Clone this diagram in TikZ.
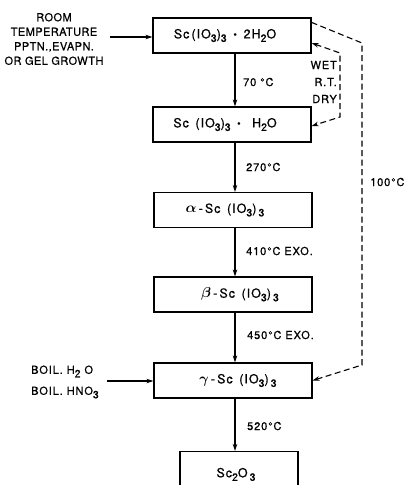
\documentclass[tikz,border=0pt]{standalone}
\usepackage{fontspec}
\setmainfont{TeX Gyre Heros}[LetterSpace=8,FakeBold=0.7]
\usetikzlibrary{arrows.meta}
\newcommand{\lowr}[1]{\raisebox{-3.5pt}{\fontsize{10.5}{11}\selectfont #1}}
\newcommand{\mdot}{\raisebox{1.5pt}{\fontsize{6.5}{7}\selectfont$\bullet$}}
\newcommand{\grk}[1]{{\fontsize{14}{14}\selectfont\boldmath$#1$}}
\begin{document}
\begin{tikzpicture}[x=1pt,y=-1pt,
  box/.style={draw,line width=1.2pt,minimum width=158pt,minimum height=35pt,inner sep=0pt,font=\fontsize{12.5}{14}\selectfont},
  lbl/.style={anchor=west,inner sep=0pt,font=\fontsize{11}{13}\selectfont},
  side/.style={inner sep=0pt,font=\fontsize{11}{14.5}\selectfont,align=center},
  arr/.style={line width=1.1pt,-{Stealth[length=7pt,width=4.5pt]}},
  dsh/.style={line width=1.1pt,dash pattern=on 6pt off 3.5pt}]
\useasboundingbox (0,0) rectangle (410,485);
\clip (0,0) rectangle (410,485);
\node[box] (b1) at (232,35.5) {Sc\,(IO\lowr{3})\lowr{3}\, \mdot\ \,2H\lowr{2}O\kern14pt};
\node[box] (b2) at (232,124.5) {Sc\, (IO\lowr{3})\lowr{3}\, \mdot\ \, H\lowr{2}O\kern14pt};
\node[box] (b3) at (233,210) {\grk{\alpha}\,-\,Sc\, (IO\lowr{3})\,\lowr{3}\kern16pt};
\node[box] (b4) at (233,294.5) {\kern14pt\grk{\beta}\,-\,Sc\, (IO\lowr{3})\,\lowr{3}};
\node[box] (b5) at (233,380.5) {\kern10pt\grk{\gamma}\,-\,Sc\, (IO\lowr{3})\,\lowr{3}};
\node[box,minimum width=118pt,minimum height=60pt,anchor=north] (b6) at (239,451) {\raisebox{18pt}{Sc\lowr{2}O\,\lowr{3}}\kern6pt};
\coordinate (ax) at (235,0);
\draw[arr] (b1.south -| ax) -- (b2.north -| ax);
\draw[arr] (b2.south -| ax) -- (b3.north -| ax);
\draw[arr] (b3.south -| ax) -- (b4.north -| ax);
\draw[arr] (b4.south -| ax) -- (b5.north -| ax);
\draw[arr] (b5.south -| ax) -- (b6.north -| ax);
\node[lbl] (t1) at (243,82) {70 °C};
\node[lbl] (t2) at (246,167) {270°C};
\node[lbl] (t3) at (246,251) {410°C EXO.};
\node[lbl] (t4) at (247,335) {450°C EXO.};
\node[lbl] (t5) at (247,426) {520°C};
\node[side,anchor=east,align=right,font=\fontsize{11}{17}\selectfont] (wet) at (337,82) {WET\\R.T.\\DRY};
\node[lbl] (t6) at (370,182) {100°C};
\node[side,font=\fontsize{11}{14.5}\selectfont\addfontfeature{LetterSpace=4}] (rt) at (54,39) {ROOM\\TEMPERATURE\\PPTN.,EVAPN.\\OR GEL GROWTH};
\coordinate (rte) at (110,37);
\draw[arr] (rte) -- (rte -| b1.west);
\node[side,align=left,anchor=west,font=\fontsize{11}{21}\selectfont] (boil) at (31,382) {BOIL. H\lowr{2} O\\BOIL. HNO\lowr{3}};
\coordinate (bte) at (107,381);
\draw[arr] (bte) -- (bte -| b5.west);
\coordinate (o1) at (362,43);
\coordinate (o2) at (362,365);
\draw[dsh,-{Stealth[length=7pt,width=4.5pt]}] ([yshift=-5pt]b1.north east) -- (o1) -- (o2) -- (b5.east);
\coordinate (i1) at (340,53);
\coordinate (i2) at (340,117);
\draw[dsh,{Stealth[length=7pt,width=4.5pt]}-{Stealth[length=7pt,width=4.5pt]}] ([yshift=-7.5pt]b1.east) -- (i1) -- (i2) -- ([yshift=-1.5pt]b2.east);
\end{tikzpicture}
\end{document}
